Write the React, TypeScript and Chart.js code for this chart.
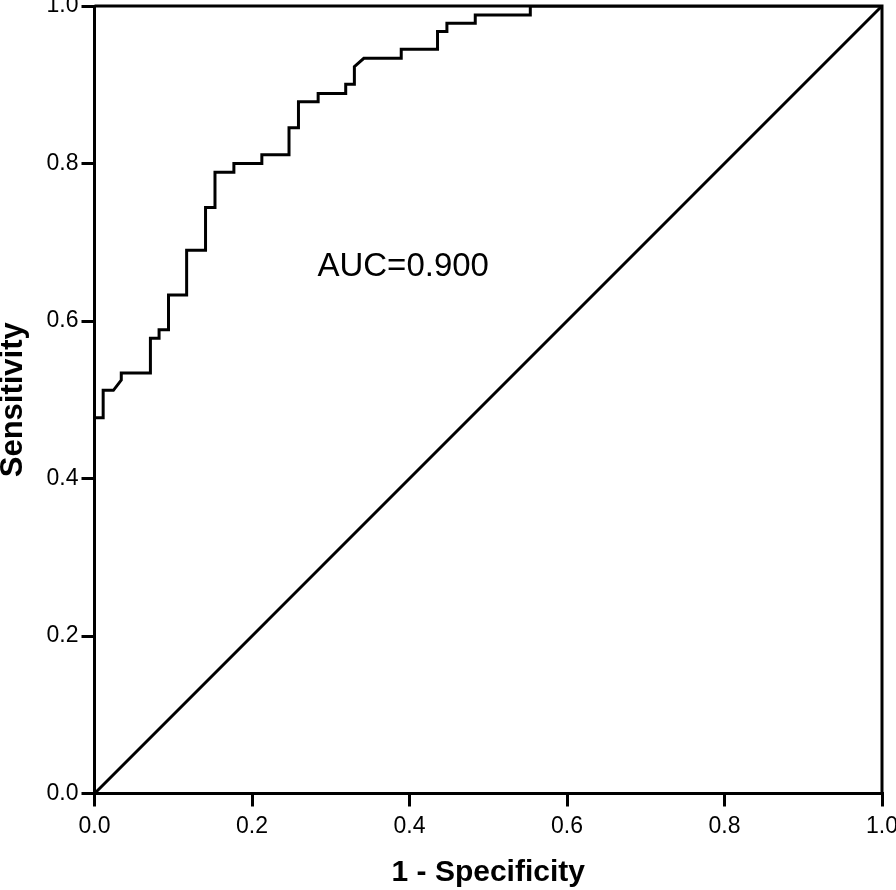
import React, { useEffect, useRef } from "react";
import { Chart, registerables } from "chart.js";

Chart.register(...registerables);

// ROC curve points (1 - specificity, sensitivity)
const rocFpr = [
  0, 0, 0.011, 0.011, 0.024, 0.034, 0.034, 0.071, 0.071, 0.082, 0.082, 0.094, 0.094,
  0.117, 0.117, 0.141, 0.141, 0.153, 0.153, 0.177, 0.177, 0.2125, 0.2125, 0.247, 0.247,
  0.259, 0.259, 0.284, 0.284, 0.319, 0.319, 0.33, 0.33, 0.342, 0.3895, 0.3895, 0.4356,
  0.4356, 0.4475, 0.4475, 0.4835, 0.4835, 0.5534, 0.5534, 1.0,
];
const rocTpr = [
  0, 0.477, 0.477, 0.512, 0.512, 0.525, 0.534, 0.534, 0.578, 0.578, 0.589, 0.589, 0.633,
  0.633, 0.69, 0.69, 0.744, 0.744, 0.789, 0.789, 0.8, 0.8, 0.811, 0.811, 0.8455,
  0.8455, 0.8785, 0.8785, 0.889, 0.889, 0.9005, 0.9005, 0.923, 0.9335, 0.9335, 0.945, 0.945,
  0.9676, 0.9676, 0.978, 0.978, 0.9886, 0.9886, 1.0, 1.0,
];
// Reference (chance) line
const refX = [0, 1];
const refY = [0, 1];

const tickValues = [0, 0.2, 0.4, 0.6, 0.8, 1.0];
const xTitle = "1 - Specificity";
const yTitle = "Sensitivity";
const aucText = "AUC=0.900";
const aucPos = { x: 0.392, y: 0.669 };

const FONT = "'Liberation Sans', Arial, sans-serif";
const LW = 3;

export default function App() {
  const ref = useRef<HTMLCanvasElement | null>(null);

  useEffect(() => {
    document.body.style.margin = "0";
    const canvas = ref.current;
    if (!canvas) return;

    const boxPlugin = {
      id: "boxAndText",
      afterDraw(chart: any) {
        const { ctx, chartArea, scales } = chart;
        ctx.save();
        ctx.strokeStyle = "#000";
        ctx.lineWidth = LW;
        ctx.beginPath();
        ctx.moveTo(chartArea.left, chartArea.top);
        ctx.lineTo(chartArea.right, chartArea.top);
        ctx.lineTo(chartArea.right, chartArea.bottom);
        ctx.stroke();
        ctx.fillStyle = "#000";
        ctx.font = `33px ${FONT}`;
        ctx.textAlign = "center";
        ctx.textBaseline = "middle";
        ctx.fillText(
          aucText,
          scales.x.getPixelForValue(aucPos.x),
          scales.y.getPixelForValue(aucPos.y)
        );
        ctx.restore();
      },
    };

    const rocData = rocFpr.map((x, i) => ({ x, y: rocTpr[i] }));
    const refData = refX.map((x, i) => ({ x, y: refY[i] }));

    const chart = new Chart(canvas, {
      type: "scatter",
      data: {
        datasets: [
          {
            data: rocData,
            showLine: true,
            borderColor: "#000",
            borderWidth: LW,
            pointRadius: 0,
            tension: 0,
          },
          {
            data: refData,
            showLine: true,
            borderColor: "#000",
            borderWidth: LW,
            pointRadius: 0,
            tension: 0,
          },
        ],
      },
      options: {
        animation: false,
        responsive: false,
        maintainAspectRatio: false,
        layout: { padding: { top: 6, right: 14, left: 0, bottom: 0 } },
        plugins: {
          legend: { display: false },
          tooltip: { enabled: false },
        },
        scales: {
          x: {
            type: "linear",
            min: 0,
            max: 1,
            afterBuildTicks(scale: any) {
              scale.ticks = tickValues.map((v) => ({ value: v }));
            },
            afterFit(scale: any) {
              scale.height = 96.5;
              scale.paddingLeft = 0;
              scale.paddingRight = 0;
            },
            grid: {
              drawOnChartArea: false,
              drawTicks: true,
              tickLength: 13,
              color: "#000",
              lineWidth: LW,
            },
            border: { display: true, color: "#000", width: LW },
            ticks: {
              color: "#000",
              font: { family: FONT, size: 23 },
              padding: 6,
              maxRotation: 0,
              callback: (v: any) => Number(v).toFixed(1),
            },
            title: {
              display: true,
              text: xTitle,
              color: "#000",
              font: { family: FONT, size: 30, weight: "bold", lineHeight: 1 },
              padding: { top: 0, bottom: 2 },
            },
          },
          y: {
            type: "linear",
            min: 0,
            max: 1,
            afterBuildTicks(scale: any) {
              scale.ticks = tickValues.map((v) => ({ value: v }));
            },
            afterFit(scale: any) {
              scale.width = 94.5;
              scale.paddingTop = 0;
              scale.paddingBottom = 0;
            },
            grid: {
              drawOnChartArea: false,
              drawTicks: true,
              tickLength: 13,
              color: "#000",
              lineWidth: LW,
            },
            border: { display: true, color: "#000", width: LW },
            ticks: {
              color: "#000",
              font: { family: FONT, size: 23 },
              padding: 3,
              callback: (v: any) => Number(v).toFixed(1),
            },
            title: {
              display: true,
              text: yTitle,
              color: "#000",
              font: { family: FONT, size: 31, weight: "bold", lineHeight: 1 },
              padding: { top: -2, bottom: 0 },
            },
          },
        },
      },
      plugins: [boxPlugin],
    });

    return () => chart.destroy();
  }, []);

  return (
    <div style={{ width: 896, height: 890, background: "#fff" }}>
      <canvas ref={ref} width={896} height={890} style={{ display: "block", width: 896, height: 890 }} />
    </div>
  );
}
